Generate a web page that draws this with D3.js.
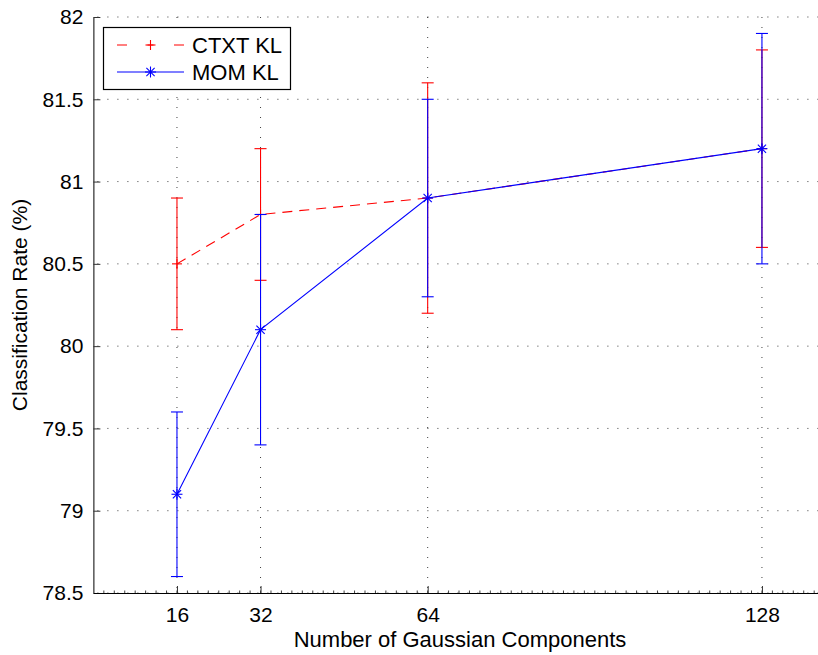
<!DOCTYPE html>
<html><head><meta charset="utf-8">
<script src="https://cdn.jsdelivr.net/npm/d3@7"></script>
<style>body{margin:0;background:#fff}svg{display:block}text{font-family:"Liberation Sans",Arial,sans-serif;fill:#000}</style>
</head><body><div id="chart"></div>
<script>
const components = [16, 32, 64, 128];
const ctxtMean = [80.5, 80.8, 80.9, 81.2];
const ctxtLow  = [80.1, 80.4, 80.2, 80.6];
const ctxtHigh = [80.9, 81.2, 81.6, 81.8];
const momMean = [79.1, 80.1, 80.9, 81.2];
const momLow  = [78.6, 79.4, 80.3, 80.5];
const momHigh = [79.6, 80.8, 81.5, 81.9];
const yTicks = [78.5, 79, 79.5, 80, 80.5, 81, 81.5, 82];
const yTickLabels = ["78.5", "79", "79.5", "80", "80.5", "81", "81.5", "82"];
const xTicks = [16, 32, 64, 128];
const seriesNames = ["CTXT KL", "MOM KL"];

const W = 818, H = 655;
const L = 93.4, T = 17, B = 593;
const svg = d3.select("#chart").append("svg").attr("width", W).attr("height", H);
const x = d3.scaleLinear().domain([0, 140]).range([L, L + 140 * 5.223]);
const y = d3.scaleLinear().domain([78.5, 82]).range([B, T]);
const fs = 21, fsL = 22;

// grid
const g = svg.append("g");
yTicks.forEach(v => {
  g.append("line").attr("x1", L).attr("x2", W).attr("y1", y(v)).attr("y2", y(v))
   .attr("stroke", "#000").attr("stroke-width", 1).attr("stroke-dasharray", "1,9").attr("stroke-dashoffset", -4).attr("opacity", 0.75);
});
xTicks.forEach(v => {
  g.append("line").attr("x1", x(v)).attr("x2", x(v)).attr("y1", T).attr("y2", B)
   .attr("stroke", "#000").attr("stroke-width", 1).attr("stroke-dasharray", "1,9").attr("opacity", 0.75);
});

// axes
const yAxis = d3.axisLeft(y).tickValues(yTicks).tickFormat((d, i) => yTickLabels[i]).tickSizeInner(-7).tickSizeOuter(0).tickPadding(10);
const ya = svg.append("g").attr("transform", `translate(${L},0)`).call(yAxis);
ya.selectAll("text").attr("font-size", fs).attr("font-family", "Liberation Sans, Arial, sans-serif");
ya.select(".domain").attr("stroke", "#000");
ya.selectAll(".tick line").attr("stroke", "#333");

const xMinor = d3.range(2, 140, 2);
svg.append("g").selectAll("line").data(xMinor).join("line")
  .attr("x1", d => x(d)).attr("x2", d => x(d)).attr("y1", B).attr("y2", B - 2.5)
  .attr("stroke", "#444").attr("stroke-width", 1);

const xAxis = d3.axisBottom(x).tickValues(xTicks).tickFormat(d3.format("d")).tickSizeInner(-7).tickSizeOuter(0).tickPadding(14);
const xa = svg.append("g").attr("transform", `translate(0,${B})`).call(xAxis);
xa.selectAll("text").attr("font-size", fs).attr("font-family", "Liberation Sans, Arial, sans-serif");
xa.select(".domain").attr("stroke", "#000");
xa.selectAll(".tick line").attr("stroke", "#333");

// labels
svg.append("text").attr("x", 460).attr("y", 647).attr("text-anchor", "middle").attr("font-size", fsL).text("Number of Gaussian Components");
svg.append("text").attr("transform", `translate(27,305) rotate(-90)`).attr("text-anchor", "middle").attr("font-size", fs).text("Classification Rate (%)");

function errorBars(color, mean, low, high) {
  const gg = svg.append("g").attr("stroke", color).attr("stroke-width", 1.1).attr("fill", "none");
  components.forEach((c, i) => {
    const cx = x(c);
    gg.append("line").attr("x1", cx).attr("x2", cx).attr("y1", y(low[i])).attr("y2", y(high[i]));
    gg.append("line").attr("x1", cx - 6).attr("x2", cx + 6).attr("y1", y(low[i])).attr("y2", y(low[i]));
    gg.append("line").attr("x1", cx - 6).attr("x2", cx + 6).attr("y1", y(high[i])).attr("y2", y(high[i]));
  });
  return gg;
}
function plusMarker(gg, cx, cy, r) {
  gg.append("line").attr("x1", cx - r).attr("x2", cx + r).attr("y1", cy).attr("y2", cy);
  gg.append("line").attr("x1", cx).attr("x2", cx).attr("y1", cy - r).attr("y2", cy + r);
}
function starMarker(gg, cx, cy, r) {
  plusMarker(gg, cx, cy, r);
  const d = r * 0.75;
  gg.append("line").attr("x1", cx - d).attr("x2", cx + d).attr("y1", cy - d).attr("y2", cy + d);
  gg.append("line").attr("x1", cx - d).attr("x2", cx + d).attr("y1", cy + d).attr("y2", cy - d);
}
const line = d3.line().x(d => x(d[0])).y(d => y(d[1]));

// CTXT KL (red dashed)
const gr = errorBars("#ff0000", ctxtMean, ctxtLow, ctxtHigh);
svg.append("path").datum(components.map((c, i) => [c, ctxtMean[i]])).attr("d", line)
  .attr("fill", "none").attr("stroke", "#ff0000").attr("stroke-width", 1.1).attr("stroke-dasharray", "10,7");
components.forEach((c, i) => plusMarker(gr, x(c), y(ctxtMean[i]), 5));

// MOM KL (blue solid)
const gb = errorBars("#0000ff", momMean, momLow, momHigh);
svg.append("path").datum(components.map((c, i) => [c, momMean[i]])).attr("d", line)
  .attr("fill", "none").attr("stroke", "#0000ff").attr("stroke-width", 1.1);
components.forEach((c, i) => starMarker(gb, x(c), y(momMean[i]), 5.5));

// legend
const lg = svg.append("g");
lg.append("rect").attr("x", 103.5).attr("y", 27.5).attr("width", 187).attr("height", 62)
  .attr("fill", "#fff").attr("stroke", "#000").attr("stroke-width", 1.2);
const ly = [45, 72];
const lgr = lg.append("g").attr("stroke", "#ff0000").attr("stroke-width", 1.1);
lgr.append("line").attr("x1", 117).attr("x2", 184).attr("y1", ly[0]).attr("y2", ly[0]).attr("stroke-dasharray", "10,20.5,6,20.5,10");
plusMarker(lgr, 150.5, ly[0], 5);
const lgb = lg.append("g").attr("stroke", "#0000ff").attr("stroke-width", 1.1);
lgb.append("line").attr("x1", 117).attr("x2", 184).attr("y1", ly[1]).attr("y2", ly[1]);
starMarker(lgb, 150.5, ly[1], 5.5);
seriesNames.forEach((n, i) => {
  lg.append("text").attr("x", 192).attr("y", ly[i]).attr("dy", "0.36em").attr("font-size", fsL).text(n);
});
</script></body></html>
